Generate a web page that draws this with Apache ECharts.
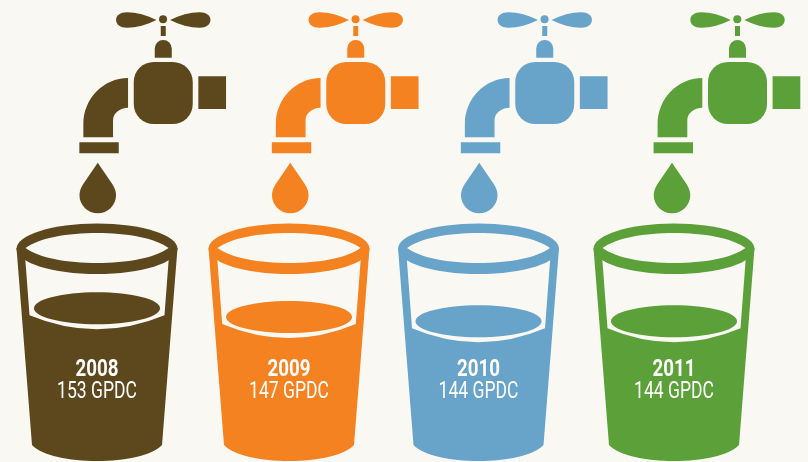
<!DOCTYPE html>
<html>
<head>
<meta charset="utf-8">
<style>html,body{margin:0;padding:0;background:#faf8f3}#main{width:808px;height:462px}</style>
<script src="https://cdn.jsdelivr.net/npm/echarts@6/dist/echarts.min.js"></script>
</head>
<body>
<div id="main"></div>
<script>
var years = ['2008', '2009', '2010', '2011']
var gpdc = [153, 147, 144, 144]
var colors = ['#5c481c', '#f58220', '#68a3c9', '#5ba038']

// the four glasses are not evenly spaced in the picture
var glassShift = [0.25, -1.25, -5.25, -3.25]
var tapShift = [1, 0, -4.5, -5.25]
var bg = '#faf8f3'

var tapPaths = [
	// left and right handle blades
	'M58.7,20 C49,15 39,12.3 29,12.3 C22.5,12.3 18.3,15.5 18.3,20 C18.3,24.5 22.5,27.7 29,27.7 C39,27.7 49,25 58.7,20 Z',
	'M72.3,20 C82,15 92,12.3 102,12.3 C108.5,12.3 112.7,15.5 112.7,20 C112.7,24.5 108.5,27.7 102,27.7 C92,27.7 82,25 72.3,20 Z',
	// stem and cap
	'M63,26 L68,26 L68,36 L63,36 Z',
	'M57,57.7 L57,48.5 A8.5,8.5 0 0 1 74,48.5 L74,57.7 Z',
	// valve body
	'M56,62 L75,62 A20,20 0 0 1 95,82 L95,104 A20,20 0 0 1 75,124 L56,124 A20,20 0 0 1 36,104 L36,82 A20,20 0 0 1 56,62 Z',
	// square outlet
	'M100.6,76.3 L128.3,76.3 L128.3,109 L100.6,109 Z',
	// elbow
	'M30.3,78 C5.7,78 -14.4,98.7 -14.4,124 L-14.4,137.3 L15.3,137.3 L15.3,120 C15.3,113.4 22,107.7 30.3,107.7 Z',
	// flange
	'M-18.4,142.3 L21,142.3 L21,153.3 L-18.4,153.3 Z',
	// drop
	'M0,162.7 L14.5,184 Q18.3,190 18.3,195 A18.3,18.3 0 0 1 -18.3,195 Q-18.3,190 -14.5,184 Z'
]

function renderTap(params, api) {
	var i = api.value(0)
	var x = api.coord([i, 0])[0] + tapShift[i]
	var kids = tapPaths.map(function (d) {
		return { type: 'path', shape: { pathData: d }, style: { fill: colors[i] } }
	})
	kids.push({ type: 'circle', shape: { cx: 65.3, cy: 19.3, r: 4 }, style: { fill: colors[i] } })
	return { type: 'group', x: x, y: 0, children: kids }
}

function renderGlass(params, api) {
	var i = api.value(0)
	var pt = api.coord([i, api.value(1)])
	var x = pt[0] + glassShift[i]
	var level = pt[1]
	var c = colors[i]
	// window edge follows the slope of the glass wall
	var edge = 71.5 - (level + 7 - 262) * 4 / 53
	var win = 'M' + (-72.5) + ',250 L-71.5,262 L' + (-edge) + ',' + (level + 7) +
		' Q0,' + (level + 35) + ' ' + edge + ',' + (level + 7) + ' L71.5,262 L72.5,250 Z'
	return {
		type: 'group',
		x: x,
		y: 0,
		children: [
			{ type: 'path', shape: { pathData: 'M-80.5,248 L-65,445 C-45,466.3 45,466.3 65,445 L80.5,248 Z' }, style: { fill: c } },
			{ type: 'path', shape: { pathData: win }, style: { fill: bg } },
			{ type: 'ellipse', shape: { cx: 0, cy: 248.7, rx: 80.5, ry: 25.3 }, style: { fill: c } },
			{ type: 'path', shape: { pathData: 'M-71.5,248 C-45,228 45,228 71.5,248 C45,268 -45,268 -71.5,248 Z' }, style: { fill: bg } },
			{ type: 'ellipse', shape: { cx: 0, cy: level, rx: 63, ry: 16 }, style: { fill: c } },
			{
				type: 'text', x: 0, y: 369.5, scaleX: 0.78, originX: 0,
				style: {
					text: years[i], fill: '#fff', align: 'center', verticalAlign: 'middle',
					font: 'bold 24px "Roboto"'
				}
			},
			{
				type: 'text', x: 0, y: 392, scaleX: 0.73, originX: 0,
				style: {
					text: api.value(1) + ' GPDC', fill: '#fff', align: 'center', verticalAlign: 'middle',
					font: '400 24px "Roboto"'
				}
			}
		]
	}
}

var chart = echarts.init(document.querySelector('#main'))
var rows = gpdc.map(function (v, i) { return [i, v] })

chart.setOption({
	animation: false,
	backgroundColor: bg,
	grid: { left: 0, top: 24, width: 774, height: 433 },
	xAxis: { type: 'category', data: years, show: false },
	yAxis: { type: 'value', min: 50, max: 350, show: false },
	series: [
		{ type: 'custom', renderItem: renderTap, data: rows, silent: true },
		{ type: 'custom', renderItem: renderGlass, data: rows, silent: true }
	]
})
</script>
</body>
</html>
